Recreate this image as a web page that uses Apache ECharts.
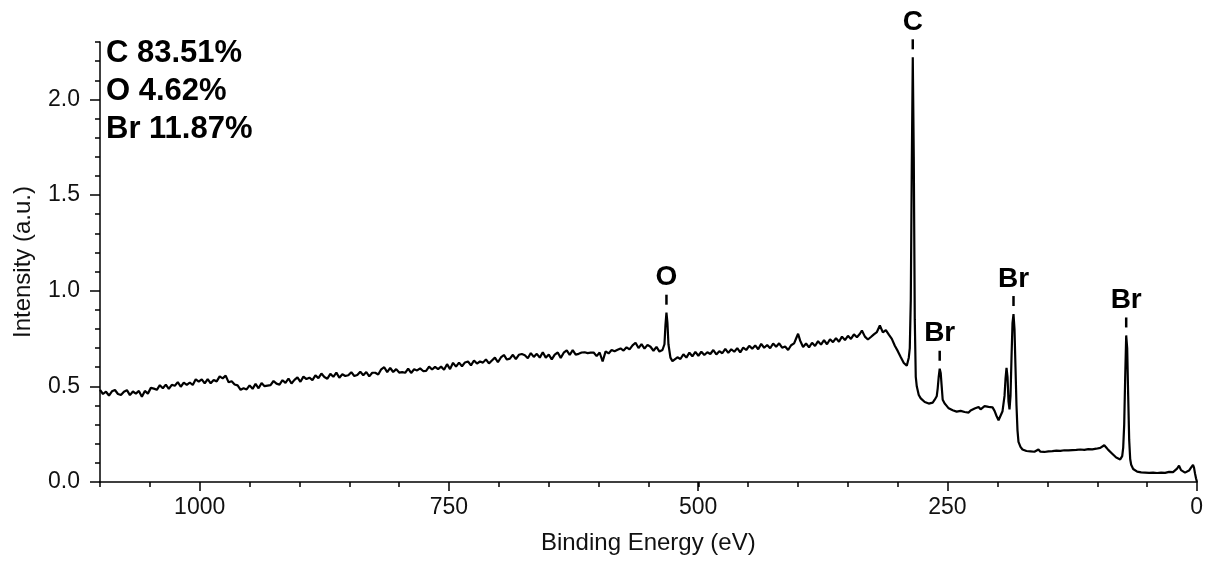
<!DOCTYPE html>
<html>
<head>
<meta charset="utf-8">
<script src="https://cdn.jsdelivr.net/npm/echarts@6/dist/echarts.min.js"></script>
<style>
html,body{margin:0;padding:0;background:#fff;}
#chart{width:1206px;height:561px;}
</style>
</head>
<body>
<div id="chart"></div>
<script>
// Binding energy (eV) and intensity (a.u.)
const energy = [
1100,1097,1094,1091,1088,1085,1082,1079,1076,1073,
1070,1067,1064,1061,1058,1055,1052,1049,1046,1043,
1040,1037,1034,1031,1028,1025,1022,1019,1016,1013,
1010,1007,1004,1001,998,995,992,989,986,983,
980,977,974,971,968,965,962,959,956,953,
950,947,944,941,938,935,932,929,926,923,
920,917,914,911,908,905,902,899,896,893,
890,887,884,881,878,875,872,869,866,863,
860,857,854,851,848,845,842,839,836,833,
830,827,824,821,818,815,812,809,806,803,
800,797,794,791,788,785,782,779,776,773,
770,767,764,761,758,755,752,749,746,743,
740,737,734,731,728,725,722,719,716,713,
710,707,704,701,698,695,692,689,686,683,
680,677,674,671,668,665,662,659,656,653,
650,647,644,641,638,635,632,629,626,623,
620,617,614,611,608,605,602,599,596,593,
590,587,584,581,578,575,572,569,566,563,
560,557,554,551,548,545,542,539,536,534,
533,532,531,530,528,526,524,521,518,515,
512,509,506,503,500,497,494,491,488,485,
482,479,476,473,470,467,464,461,458,455,
452,449,446,443,440,437,434,431,428,425,
422,419,416,413,410,407,404,402,400,398,
395,392,389,386,383,380,377,374,371,368,
365,362,359,356,353,350,347,344,341,338,
336,333,330,327,324,321,318,315,312,309,
306,303,300,297,294,291,289,288,287,286,
285,284,283,282,281,279,277,275,273,271,
269,267,265,263,261,260,259,258,257,256,
255,253,251,249,247,245,243,241,239,237,
235,233,231,229,227,225,223,221,219,217,
215,213,211,209,207,205,203,201,199,197,
195,193,192,191,190,189,188,187,186,185,
184,183,182,181,180,179,177,175,173,171,
169,167,165,163,161,159,157,155,153,151,
149,147,145,143,141,139,137,135,133,131,
129,127,125,123,121,119,117,115,113,111,
109,107,105,103,101,99,97,95,93,91,
89,87,85,83,81,79,77,75,74,73,
72,71,70,69,68,67,66,64,62,60,
58,56,54,52,50,48,46,44,42,40,
38,36,34,32,30,28,26,24,22,20,
18,17,16,14,12,10,8,6,4,3,
2,1,0
];
const intensity = [
.482,.460,.472,.452,.474,.481,.460,.455,.472,.480,
.454,.473,.462,.476,.446,.476,.462,.492,.488,.482,
.506,.490,.509,.487,.508,.503,.522,.498,.519,.508,
.520,.507,.537,.525,.537,.515,.538,.516,.533,.526,
.552,.542,.556,.521,.527,.510,.505,.482,.490,.484,
.505,.487,.513,.490,.517,.501,.504,.506,.528,.514,
.509,.532,.518,.541,.515,.534,.547,.524,.551,.538,
.545,.533,.557,.543,.567,.549,.540,.565,.550,.572,
.545,.563,.554,.558,.574,.554,.559,.576,.558,.575,
.552,.571,.571,.562,.589,.600,.574,.596,.575,.590,
.572,.574,.571,.593,.570,.589,.583,.594,.580,.581,
.603,.588,.602,.590,.603,.587,.616,.590,.623,.603,
.624,.605,.625,.630,.610,.635,.619,.630,.624,.641,
.620,.635,.650,.626,.651,.664,.640,.645,.665,.642,
.665,.669,.663,.647,.674,.654,.670,.650,.678,.650,
.666,.641,.666,.677,.649,.676,.688,.664,.689,.666,
.670,.677,.678,.674,.676,.677,.658,.677,.630,.683,
.672,.690,.683,.691,.698,.687,.704,.693,.714,.728,
.700,.721,.697,.717,.707,.686,.706,.682,.690,.720,
.820,.885,.830,.720,.650,.632,.641,.652,.643,.668,
.650,.676,.657,.680,.660,.681,.664,.678,.669,.690,
.667,.684,.673,.696,.675,.694,.681,.700,.678,.702,
.690,.712,.697,.714,.694,.722,.702,.716,.699,.724,
.707,.725,.702,.708,.690,.715,.725,.750,.775,.740,
.706,.724,.704,.728,.711,.736,.718,.741,.720,.746,
.731,.752,.733,.760,.742,.764,.748,.772,.757,.775,
.792,.760,.745,.758,.772,.784,.818,.782,.794,.770,
.748,.712,.684,.652,.622,.608,.650,.700,.950,1.650,
2.220,1.700,.850,.550,.500,.455,.437,.432,.418,.425,
.410,.402,.415,.430,.448,.490,.550,.592,.570,.500,
.430,.410,.398,.385,.392,.375,.380,.368,.378,.372,
.380,.366,.372,.363,.374,.368,.384,.374,.392,.380,
.388,.397,.405,.393,.400,.390,.372,.345,.323,.330,
.370,.450,.540,.597,.550,.420,.380,.450,.650,.830,
.878,.800,.600,.400,.270,.210,.184,.170,.168,.162,
.168,.160,.165,.158,.163,.170,.158,.162,.157,.165,
.160,.167,.161,.158,.164,.160,.163,.158,.166,.161,
.165,.159,.167,.162,.168,.163,.170,.165,.168,.164,
.172,.166,.171,.168,.174,.172,.178,.176,.192,.180,
.168,.160,.148,.138,.128,.120,.118,.135,.180,.300,
.550,.766,.700,.450,.220,.120,.090,.068,.058,.054,
.052,.050,.053,.049,.051,.048,.052,.049,.050,.047,
.051,.049,.052,.048,.050,.053,.049,.052,.058,.070,
.085,.080,.062,.052,.049,.050,.060,.075,.089,.075,
.045,.020,.000
];
// Peak assignments
const peakNames = ['C', 'O', 'Br', 'Br', 'Br'];
const peakEnergy = [285, 532, 258, 184, 71];
const peakHeight = [2.22, 0.885, 0.592, 0.878, 0.766];
// Composition
const compNames = ['C', 'O', 'Br'];
const compValues = ['83.51%', '4.62%', '11.87%'];
// Axis ticks
const xMajorTicks = [0, 250, 500, 750, 1000];
const yMajorTicks = [0, 0.5, 1.0, 1.5, 2.0];
const xMin = 0, xMax = 1100, yMin = 0, yMax = 2.3;

const font = '"Liberation Sans", Arial, Helvetica, sans-serif';
const lineData = energy.map((e, i) => [e, intensity[i]]);
const peakData = peakEnergy.map((e, i) => ({ value: [e, peakHeight[i]], name: peakNames[i] }));
const axisCol = '#000';
const textCol = '#111';
const gridBox = { left: 100, right: 9, top: 42, bottom: 79, containLabel: false };

const chart = echarts.init(document.getElementById('chart'), null, { renderer: 'canvas' });
chart.setOption({
  animation: false,
  backgroundColor: '#fff',
  title: {
    text: compNames.map((n, i) => n + ' ' + compValues[i]).join('\n'),
    left: 106, top: 34, padding: 0,
    textStyle: { fontFamily: font, fontSize: 31, fontWeight: 'bold', color: '#000', lineHeight: 38 }
  },
  grid: [Object.assign({}, gridBox), Object.assign({}, gridBox)],
  xAxis: [
    {
      gridIndex: 0, type: 'value', min: xMin, max: xMax, inverse: true, interval: 50, position: 'bottom',
      axisLine: { show: true, onZero: false, lineStyle: { color: axisCol, width: 1.5 } },
      axisTick: { show: true, length: 5, lineStyle: { color: axisCol, width: 1.5 } },
      axisLabel: { show: false }, splitLine: { show: false }
    },
    {
      gridIndex: 1, type: 'value', min: xMin, max: xMax, inverse: true, position: 'bottom',
      axisLine: { show: false, onZero: false },
      axisTick: { show: true, length: 9, customValues: xMajorTicks, lineStyle: { color: axisCol, width: 1.5 } },
      axisLabel: { show: true, customValues: xMajorTicks, fontFamily: font, fontSize: 23, color: textCol, margin: 14,
        formatter: v => String(v) },
      splitLine: { show: false },
      name: 'Binding Energy (eV)', nameLocation: 'middle', nameGap: 49,
      nameTextStyle: { fontFamily: font, fontSize: 24, color: textCol }
    }
  ],
  yAxis: [
    {
      gridIndex: 0, type: 'value', min: yMin, max: yMax, interval: 0.1, position: 'left',
      axisLine: { show: true, onZero: false, lineStyle: { color: axisCol, width: 1.5 } },
      axisTick: { show: true, length: 5, lineStyle: { color: axisCol, width: 1.5 } },
      axisLabel: { show: false }, splitLine: { show: false }
    },
    {
      gridIndex: 1, type: 'value', min: yMin, max: yMax, position: 'left',
      axisLine: { show: false, onZero: false },
      axisTick: { show: true, length: 10, customValues: yMajorTicks, lineStyle: { color: axisCol, width: 1.5 } },
      axisLabel: { show: true, customValues: yMajorTicks, fontFamily: font, fontSize: 23, color: textCol, margin: 20,
        formatter: v => Number(v).toFixed(1) },
      splitLine: { show: false },
      name: 'Intensity (a.u.)', nameLocation: 'middle', nameGap: 65,
      nameTextStyle: { fontFamily: font, fontSize: 24, color: textCol }
    }
  ],
  series: [
    {
      type: 'line', xAxisIndex: 0, yAxisIndex: 0, data: lineData,
      showSymbol: false, symbol: 'none', smooth: false,
      lineStyle: { color: '#000', width: 2.2 }, z: 3
    },
    {
      type: 'scatter', xAxisIndex: 0, yAxisIndex: 0, data: peakData,
      symbol: 'rect', symbolSize: [2.5, 10], symbolOffset: [0, -13],
      itemStyle: { color: '#000', opacity: 1 },
      label: {
        show: true, position: 'top', distance: 3, formatter: p => p.name,
        fontFamily: font, fontSize: 28, fontWeight: 'bold', color: '#000', opacity: 1
      },
      z: 4
    }
  ]
});
</script>
</body>
</html>
